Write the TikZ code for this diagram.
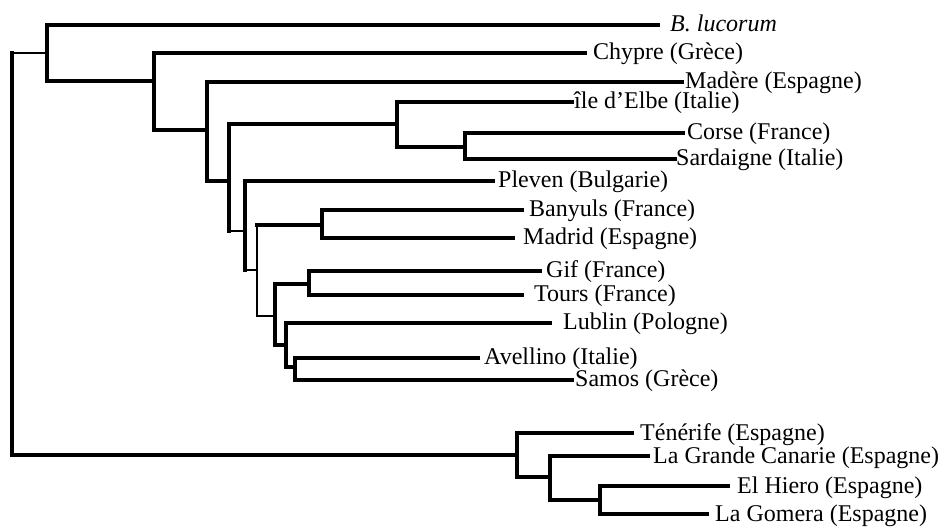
\documentclass[tikz,border=0pt]{standalone}
\usepackage{fontspec}
\setmainfont{Liberation Serif}
\begin{document}
\begin{tikzpicture}[x=1pt,y=-1pt,
  tip/.style={anchor=west,inner ysep=0pt,text height=14pt,text depth=0pt,
    font=\fontsize{24}{28}\selectfont},
  br/.style={line width=4.2pt,line cap=rect},
  midbr/.style={line width=3.2pt,line cap=rect},
  thinbr/.style={line width=2.5pt,line cap=rect}]
\useasboundingbox (0,0) rectangle (943,529);
% internal nodes
\coordinate (R) at (12,53);
\coordinate (n1) at (47,53);
\coordinate (n2) at (154,81);
\coordinate (n3) at (207,130);
\coordinate (n4) at (229,181);
\coordinate (n5) at (397,124);
\coordinate (n6) at (465,147);
\coordinate (n7) at (245,231);
\coordinate (n8) at (257,270);
\coordinate (n9) at (322,225);
\coordinate (n10) at (275,316);
\coordinate (n11) at (309,284);
\coordinate (n12) at (286,345);
\coordinate (n13) at (295,367);
\coordinate (nC) at (517,455);
\coordinate (nD) at (550,477);
\coordinate (nE) at (600,500);
% tips
\node[tip,inner xsep=12pt] (tB) at (658,25) {\textit{B. lucorum}};
\node[tip,inner xsep=8pt] (tCh) at (585,53) {Chypre (Grèce)};
\node[tip,inner xsep=3pt] (tMa) at (682,82) {Madère (Espagne)};
\node[tip,inner xsep=2pt] (tIl) at (572,102) {île d’Elbe (Italie)};
\node[tip,inner xsep=4pt] (tCo) at (683,133) {Corse (France)};
\node[tip,inner xsep=1pt] (tSa) at (675,159) {Sardaigne (Italie)};
\node[tip,inner xsep=5pt] (tPl) at (493,181) {Pleven (Bulgarie)};
\node[tip,inner xsep=7pt] (tBa) at (522,210) {Banyuls (France)};
\node[tip,inner xsep=10pt] (tMd) at (513,238) {Madrid (Espagne)};
\node[tip,inner xsep=6pt] (tGi) at (540,271) {Gif (France)};
\node[tip,inner xsep=12pt] (tTo) at (522,295) {Tours (France)};
\node[tip,inner xsep=13pt] (tLu) at (550,323) {Lublin (Pologne)};
\node[tip,inner xsep=6pt] (tAv) at (478,358) {Avellino (Italie)};
\node[tip,inner xsep=3pt] (tSm) at (572,380) {Samos (Grèce)};
\node[tip,inner xsep=8pt] (tTe) at (632,433) {Ténérife (Espagne)};
\node[tip,inner xsep=5pt] (tGC) at (648,456) {La Grande Canarie (Espagne)};
\node[tip,inner xsep=9pt] (tEH) at (728,486) {El Hiero (Espagne)};
\node[tip,inner xsep=8pt] (tLG) at (707,514) {La Gomera (Espagne)};
% vertical parts
\draw[midbr] (R |- n1) -- (R |- nC);
\draw[br] (n1 |- tB.west) -- (n1 |- n2);
\draw[br] (n2 |- tCh.west) -- (n2 |- n3);
\draw[br] (n3 |- tMa.west) -- (n3 |- n4);
\draw[br] (n4 |- n5) -- (n4 |- n7);
\draw[br] (n5 |- tIl.west) -- (n5 |- n6);
\draw[br] (n6 |- tCo.west) -- (n6 |- tSa.west);
\draw[br] (n7 |- tPl.west) -- (n7 |- n8);
\draw[thinbr] (n8 |- n9) -- (n8 |- n10);
\draw[br] (n9 |- tBa.west) -- (n9 |- tMd.west);
\draw[br] (n10 |- n11) -- (n10 |- n12);
\draw[br] (n11 |- tGi.west) -- (n11 |- tTo.west);
\draw[br] (n12 |- tLu.west) -- (n12 |- n13);
\draw[br] (n13 |- tAv.west) -- (n13 |- tSm.west);
\draw[midbr] (nC |- tTe.west) -- (nC |- nD);
\draw[midbr] (nD |- tGC.west) -- (nD |- nE);
\draw[midbr] (nE |- tEH.west) -- (nE |- tLG.west);
% horizontal parts
\draw[thinbr] (R) -- (n1);
\draw[midbr] (R |- nC) -- (nC);
\draw[br] (n1 |- tB.west) -- (tB.west);
\draw[br] (n1 |- n2) -- (n2);
\draw[br] (n2 |- tCh.west) -- (tCh.west);
\draw[br] (n2 |- n3) -- (n3);
\draw[br] (n3 |- tMa.west) -- (tMa.west);
\draw[br] (n3 |- n4) -- (n4);
\draw[midbr] (n4 |- n5) -- (n5);
\draw[thinbr] (n4 |- n7) -- (n7);
\draw[br] (n5 |- tIl.west) -- (tIl.west);
\draw[br] (n5 |- n6) -- (n6);
\draw[br] (n6 |- tCo.west) -- (tCo.west);
\draw[br] (n6 |- tSa.west) -- (tSa.west);
\draw[br] (n7 |- tPl.west) -- (tPl.west);
\draw[thinbr] (n7 |- n8) -- (n8);
\draw[midbr] (n8 |- n9) -- (n9);
\draw[thinbr] (n8 |- n10) -- (n10);
\draw[br] (n9 |- tBa.west) -- (tBa.west);
\draw[br] (n9 |- tMd.west) -- (tMd.west);
\draw[br] (n10 |- n11) -- (n11);
\draw[br] (n10 |- n12) -- (n12);
\draw[br] (n11 |- tGi.west) -- (tGi.west);
\draw[br] (n11 |- tTo.west) -- (tTo.west);
\draw[br] (n12 |- tLu.west) -- (tLu.west);
\draw[br] (n12 |- n13) -- (n13);
\draw[br] (n13 |- tAv.west) -- (tAv.west);
\draw[br] (n13 |- tSm.west) -- (tSm.west);
\draw[br] (nC |- tTe.west) -- (tTe.west);
\draw[midbr] (nC |- nD) -- (nD);
\draw[midbr] (nD |- tGC.west) -- (tGC.west);
\draw[midbr] (nD |- nE) -- (nE);
\draw[midbr] (nE |- tEH.west) -- (tEH.west);
\draw[midbr] (nE |- tLG.west) -- (tLG.west);
\end{tikzpicture}
\end{document}
